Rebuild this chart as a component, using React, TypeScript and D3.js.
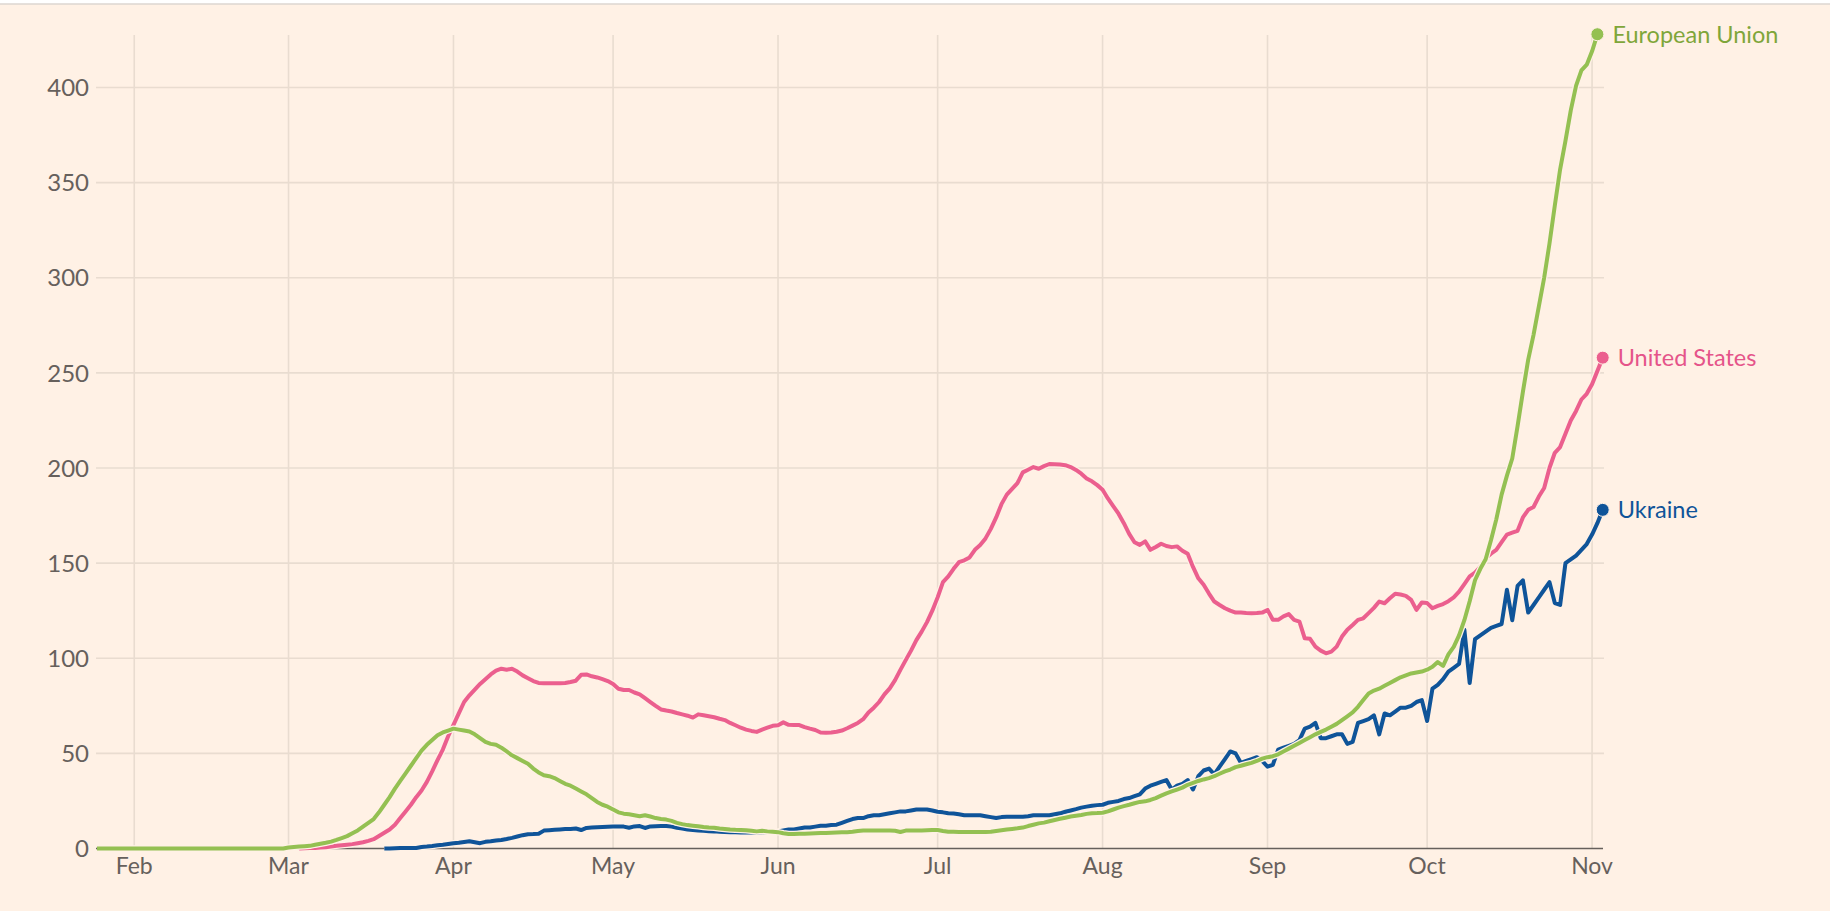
import React from "react";
import * as d3 from "d3";

// ---------- data (daily values) ----------
const euStart = "2020-01-25";
const euValues = [
  // Jan 25-31
  0, 0, 0, 0, 0, 0, 0,
  // Feb
  0, 0, 0, 0, 0, 0, 0, 0, 0, 0, 0, 0, 0, 0, 0, 0, 0, 0, 0, 0, 0, 0, 0, 0, 0, 0, 0, 0, 0,
  // Mar
  0.5, 0.8, 1, 1.2, 1.4, 2, 2.5, 3, 3.6, 4.5, 5.5, 6.5, 8, 9.5, 11.5, 13.5, 15.5, 19, 23, 27, 31.5, 35.5, 39.5, 43.5, 47.5, 51.5, 54.5, 57, 59.5, 61, 62,
  // Apr
  63, 62.5, 62, 61.5, 60, 58, 56, 55, 54.5, 53, 51, 49, 47.5, 46, 44.5, 42, 40, 38.5, 38, 37, 35.5, 34, 33, 31.5, 30, 28.5, 26.5, 24.5, 23, 22,
  // May
  20.5, 19, 18.3, 18, 17.5, 17, 17.5, 16.8, 16, 15.5, 15.2, 14.5, 13.5, 12.8, 12.3, 12, 11.7, 11.3, 11, 10.9, 10.5, 10.3, 10, 9.8, 9.7, 9.6, 9.3, 9, 9.3, 9, 8.8,
  // Jun
  8.6, 8, 7.6, 7.6, 7.7, 7.8, 7.9, 8, 8.1, 8.2, 8.3, 8.4, 8.5, 8.6, 8.8, 9.2, 9.4, 9.4, 9.4, 9.4, 9.4, 9.4, 9.3, 8.7, 9.4, 9.5, 9.5, 9.5, 9.6, 9.7,
  // Jul
  9.7, 9.2, 8.8, 8.8, 8.7, 8.7, 8.7, 8.7, 8.7, 8.7, 8.8, 9.2, 9.6, 10, 10.3, 10.6, 11, 11.8, 12.5, 13.2, 13.6, 14.3, 15, 15.6, 16.2, 16.8, 17.2, 17.6, 18.2, 18.5, 18.6,
  // Aug
  18.8, 19.5, 20.5, 21.5, 22.3, 23, 23.8, 24.5, 24.8, 25.5, 26.5, 27.8, 29, 30, 31, 32, 33.5, 34.5, 35.5, 36.3, 37, 38, 39.3, 40.5, 41.5, 42.8, 43.5, 44.3, 45, 46, 47.2,
  // Sep
  48, 48.5, 49.5, 51, 52.5, 54, 55.5, 57, 58.5, 60, 61.3, 62.5, 64, 65.5, 67.5, 69.5, 71.5, 74.5, 78, 81.5, 83, 84, 85.5, 87, 88.5, 90, 91, 92, 92.5, 93,
  // Oct
  94, 95.5, 98, 96, 102, 106, 112, 120, 130, 141, 147, 152, 162, 173, 186, 196, 205, 222, 240, 257, 270, 285, 300, 318, 338, 357, 372, 388, 401, 409, 412,
  // Nov
  419, 428,
];

const usStart = "2020-03-03";
const usValues = [
  // Mar 3-31
  0, 0.1, 0.2, 0.3, 0.5, 0.7, 1, 1.4, 1.7, 2, 2.3, 2.8, 3.3, 4, 4.9, 6.6, 8.3, 10, 12.5, 16, 19.5, 23, 27, 30.5, 35, 40.5, 46.5, 52, 59,
  // Apr
  65, 71, 77, 80.5, 83.5, 86.5, 89, 91.5, 93.5, 94.5, 94, 94.5, 93, 91, 89.5, 88, 87, 86.8, 86.8, 86.8, 86.8, 87, 87.5, 88.2, 91.3, 91.5, 90.5, 89.9, 89, 88,
  // May
  86.5, 84, 83.3, 83.3, 82, 81, 79, 77, 75, 73.1, 72.5, 72, 71.2, 70.5, 69.8, 68.8, 70.5, 70, 69.5, 69, 68.2, 67.5, 66, 64.8, 63.5, 62.5, 61.8, 61.3, 62.5, 63.5, 64.5,
  // Jun
  64.8, 66.3, 65, 64.9, 64.9, 63.8, 63, 62.3, 61, 60.9, 61, 61.4, 62, 63.2, 64.6, 66, 68, 71.5, 74, 77, 81, 84.2, 88.5, 93.9, 99, 104, 109.5, 114, 119, 125,
  // Jul
  132, 140, 143, 147, 150.5, 151.5, 153, 157, 159.5, 163, 168, 174, 181, 186, 189, 192, 197.7, 199.1, 200.5, 199.6, 201, 202.1, 202, 201.8, 201.5, 200.5, 199, 197, 194.5, 193, 191,
  // Aug
  188.6, 184, 180, 176, 171, 165.4, 161, 159.6, 161.4, 157, 158.5, 160.2, 159, 158.4, 158.8, 156.5, 154.9, 148, 142, 138.6, 134, 129.8, 128, 126.3, 125, 124, 124, 123.8, 123.7, 123.8, 124,
  // Sep
  125.4, 120.2, 120.2, 122, 123.2, 120.2, 119.3, 110.5, 110.2, 106.1, 104, 102.6, 103.5, 106.1, 111.4, 115, 117.5, 120.2, 121, 123.7, 126.5, 129.8, 128.9, 131.5, 133.9, 133.5, 132.8, 130.7, 125.4, 129.3,
  // Oct
  129, 126.3, 127.5, 128.5, 130, 132, 135, 139, 143, 145, 148, 152.6, 155, 157, 161, 165, 166, 167, 174, 178, 179.5, 185, 189.5, 200, 208, 211, 218, 225, 230, 236, 239,
  // Nov
  244, 251, 258,
];

const uaStart = "2020-03-19";
const uaValues = [
  // Mar 19-31
  0, 0, 0.1, 0.2, 0.2, 0.3, 0.3, 0.8, 1, 1.3, 1.7, 2, 2.4,
  // Apr
  2.8, 3, 3.4, 3.8, 3.3, 2.8, 3.5, 3.8, 4.2, 4.5, 5, 5.6, 6.3, 7, 7.5, 7.6, 7.8, 9.4, 9.6, 9.8, 10, 10.2, 10.2, 10.5, 9.7, 10.8, 11, 11.2, 11.3, 11.4,
  // May
  11.5, 11.5, 11.5, 10.9, 11.6, 11.8, 10.8, 11.6, 11.7, 11.8, 11.8, 11.5, 10.9, 10.5, 10, 9.7, 9.5, 9.3, 9.1, 9, 8.8, 8.7, 8.6, 8.5, 8.4, 8.4, 8.4, 8.5, 8.6, 8.7, 8.8,
  // Jun
  9, 9.5, 10, 10, 10.5, 11, 11, 11.5, 12, 12, 12.3, 12.5, 13.5, 14.5, 15.5, 16, 16, 17, 17.5, 17.5, 18, 18.5, 19, 19.5, 19.5, 20, 20.5, 20.5, 20.5, 20,
  // Jul
  19.3, 19, 18.5, 18.4, 18, 17.5, 17.5, 17.5, 17.5, 17, 16.5, 16, 16.5, 16.7, 16.7, 16.7, 16.7, 17, 17.5, 17.5, 17.5, 17.5, 18, 18.5, 19.3, 20, 20.7, 21.5, 22, 22.5, 22.8,
  // Aug
  23, 24, 24.5, 25, 26, 26.5, 27.5, 28.5, 31.5, 33, 34, 35, 36, 31, 33, 34, 36, 31, 38, 41, 42, 39, 43, 47, 51, 50, 45, 46, 47, 48, 46,
  // Sep
  43, 44, 52, 53, 54, 55, 57, 63, 64, 66, 58, 58, 59, 60, 60, 55, 56, 66, 67, 68, 70, 60, 71, 70, 72, 74, 74, 75, 77, 78,
  // Oct
  67, 84, 86, 89, 93, 95, 97, 115, 87, 110, 112, 114, 116, 117, 118, 136, 120, 138, 141, 124, 128, 132, 136, 140, 129, 128, 150, 152, 154, 157, 160,
  // Nov
  165, 171, 178,
];

const seriesNames = ["Ukraine", "United States", "European Union"];
const lineColors = ["#0f5499", "#eb5f8e", "#94c052"];
const labelColors = ["#0f5499", "#e5548a", "#7fa63a"];

const yTicks = [0, 50, 100, 150, 200, 250, 300, 350, 400];
const monthTicks = ["2020-02-01", "2020-03-01", "2020-04-01", "2020-05-01", "2020-06-01", "2020-07-01", "2020-08-01", "2020-09-01", "2020-10-01", "2020-11-01"];
const monthLabels = ["Feb", "Mar", "Apr", "May", "Jun", "Jul", "Aug", "Sep", "Oct", "Nov"];

// ---------- helpers ----------
const DAY = 86400000;
const parse = (s: string) => new Date(s + "T00:00:00Z");
const toPoints = (start: string, vals: number[]) =>
  vals.map((v, i) => ({ date: new Date(parse(start).getTime() + i * DAY), value: v }));

const W = 1830;
const H = 911;
const BG = "#fff1e5";
const GRID = "#e9dcd0";
const AXIS = "#66605c";
const FONT = "Lato, 'Open Sans', sans-serif";

export default function App() {
  const x = d3.scaleUtc().domain([parse("2020-01-25"), parse("2020-11-03")]).range([97, 1602.7]);
  const y = d3.scaleLinear().domain([0, 400]).range([848.5, 87.5]);

  const data = [
    toPoints(uaStart, uaValues),
    toPoints(usStart, usValues),
    toPoints(euStart, euValues),
  ];

  const line = d3
    .line<{ date: Date; value: number }>()
    .x((d) => x(d.date))
    .y((d) => y(d.value));

  const gridLeft = 96;
  const gridRight = 1604;

  return (
    <svg width={W} height={H} style={{ position: "absolute", left: 0, top: 0, display: "block" }}>
      <rect x={0} y={0} width={W} height={H} fill="#ffffff" />
      <rect x={0} y={4} width={W} height={H - 4} fill={BG} />
      <line x1={0} x2={W} y1={4} y2={4} stroke="#dcd6d1" strokeWidth={1.5} />

      {/* horizontal grid */}
      {yTicks.map((t) =>
        t === 0 ? null : (
          <line key={"h" + t} x1={gridLeft} x2={gridRight} y1={y(t)} y2={y(t)} stroke={GRID} strokeWidth={1.6} />
        )
      )}
      {/* vertical grid */}
      {monthTicks.map((m) => (
        <line key={"v" + m} x1={x(parse(m))} x2={x(parse(m))} y1={35} y2={y(0)} stroke={GRID} strokeWidth={1.6} />
      ))}

      {/* y labels */}
      {yTicks.map((t) => (
        <text
          key={"yl" + t}
          x={89}
          y={y(t)}
          dy="0.36em"
          textAnchor="end"
          fontFamily={FONT}
          fontSize={24}
          fill={AXIS}
        >
          {t}
        </text>
      ))}

      {/* x axis */}
      <line x1={gridLeft} x2={1603} y1={y(0)} y2={y(0)} stroke={AXIS} strokeWidth={1.6} />
      {monthTicks.map((m, i) => (
        <text
          key={"xl" + m}
          x={x(parse(m))}
          y={874}
          textAnchor="middle"
          fontFamily={FONT}
          fontSize={23}
          fill={AXIS}
        >
          {monthLabels[i]}
        </text>
      ))}

      {/* lines */}
      {data.map((pts, i) => (
        <g key={"s" + i}>
          <path d={line(pts) || ""} fill="none" stroke={BG} strokeWidth={6.5} strokeLinejoin="round" />
          <path d={line(pts) || ""} fill="none" stroke={lineColors[i]} strokeWidth={4} strokeLinejoin="round" />
        </g>
      ))}

      {/* end dots and labels */}
      {data.map((pts, i) => {
        const last = pts[pts.length - 1];
        const cx = x(last.date);
        const cy = y(last.value);
        return (
          <g key={"d" + i}>
            <circle cx={cx} cy={cy} r={6.5} fill={lineColors[i]} stroke={BG} strokeWidth={1} />
            <text
              x={cx + 15}
              y={cy}
              dy="0.36em"
              fontFamily={FONT}
              fontSize={23.5}
              fill={labelColors[i]}
            >
              {seriesNames[i]}
            </text>
          </g>
        );
      })}
    </svg>
  );
}
